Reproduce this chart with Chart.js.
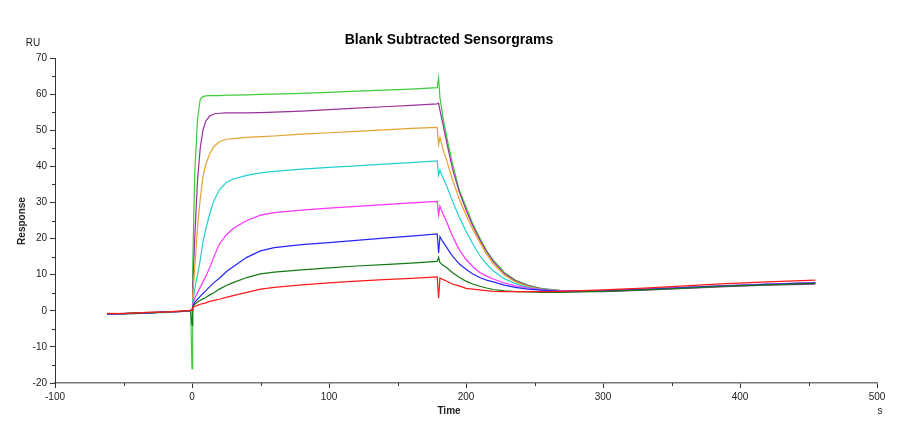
<!DOCTYPE html>
<html>
<head>
<meta charset="utf-8">
<script src="https://cdn.jsdelivr.net/npm/chart.js@4"></script>
<style>
  html, body { margin: 0; padding: 0; background: #fff; }
  #wrap { width: 900px; height: 424px; }
</style>
</head>
<body>
<div id="wrap"><canvas id="myChart" width="900" height="424"></canvas></div>
<script>
// time points (s)
const times = [-62, -50, -40, -30, -20, -10, -1, 0, 0.5, 2, 4, 6, 8, 10, 13, 16, 20, 25, 30, 40,
  50, 60, 80, 100, 120, 140, 160, 179, 180, 181, 183, 186, 190, 195, 200, 205, 210, 215, 220, 228,
  236, 245, 255, 270, 300, 330, 360, 390, 420, 455];

// response (RU), one array per concentration
const green = [-0.9, -0.7, -0.8, -0.5, -0.4, -0.3, 0.1,
  -16, 12, 38, 53, 58.5, 59.3, 59.5, 59.6, 59.6, 59.6, 59.7, 59.7, 59.8, 59.9, 60, 60.2, 60.5, 60.8, 61.1, 61.4, 61.8,
  64.5, 59, 54, 48, 41, 33.5, 28.8, 24, 20.2, 16.7, 14, 10.6, 8.5, 7.1, 6.2, 5.6, 5.4, 5.9, 6.4, 6.9, 7.3, 7.6];
const purple = [-1, -0.8, -0.7, -0.6, -0.4, -0.2, 0,
  0.5, 6, 20, 36, 45, 50, 52.5, 54, 54.5, 54.7, 54.8, 54.8, 54.8, 54.9, 55, 55.3, 55.7, 56.1, 56.5, 56.9, 57.3,
  57.5, 55.5, 52, 46.5, 39.5, 33, 28, 23.5, 19.7, 16.4, 13.6, 10.3, 8.3, 7, 6.1, 5.5, 5.3, 5.7, 6.2, 6.7, 7.1, 7.4];
const orange = [-0.9, -0.8, -0.6, -0.6, -0.4, -0.2, 0,
  0.5, 4, 12, 23, 31, 37, 40.5, 43.5, 45.5, 46.8, 47.5, 47.7, 48, 48.2, 48.4, 48.9, 49.3, 49.7, 50.1, 50.5, 50.8,
  46, 48, 45, 41.5, 36.5, 31, 26.5, 22.5, 19, 15.7, 12.9, 9.9, 8, 6.8, 6, 5.5, 5.5, 5.9, 6.4, 6.9, 7.3, 7.7];
const cyan = [-0.8, -0.9, -0.6, -0.5, -0.5, -0.2, 0.1,
  0.3, 2.5, 6, 10, 14, 19, 22.5, 27, 30.5, 33.5, 35.5, 36.5, 37.5, 38.2, 38.6, 39.2, 39.7, 40.1, 40.6, 41, 41.5,
  37.5, 39, 37, 34.5, 30.5, 26, 22, 18.5, 15.3, 12.9, 11, 8.9, 7.5, 6.5, 5.9, 5.5, 5.6, 6, 6.5, 7, 7.4, 7.8];
const magenta = [-1, -0.7, -0.7, -0.5, -0.3, -0.3, 0,
  0.3, 1.8, 3.5, 5, 6.5, 8, 9.5, 12, 15, 18.5, 21, 22.8, 25, 26.5, 27.2, 27.9, 28.4, 28.9, 29.4, 29.9, 30.3,
  26.5, 29, 27, 24.5, 20.8, 17, 14.2, 12.2, 10.6, 9.6, 8.8, 7.7, 6.9, 6.3, 5.8, 5.5, 5.6, 6, 6.5, 7, 7.4, 7.8];
const blue = [-0.9, -0.8, -0.7, -0.6, -0.3, -0.2, 0,
  0.2, 1.2, 2.3, 3.2, 4, 4.8, 5.5, 6.7, 7.8, 9, 10.8, 12.2, 14.8, 16.6, 17.5, 18.3, 18.9, 19.5, 20.1, 20.7, 21.3,
  16, 20.5, 19.2, 17.5, 15.2, 13, 11.5, 10.2, 9.2, 8.5, 8, 7.1, 6.5, 6, 5.7, 5.4, 5.5, 5.9, 6.4, 6.9, 7.3, 7.7];
const darkGreen = [-0.8, -0.8, -0.6, -0.5, -0.4, -0.2, 0.1,
  -4, 1, 1.8, 2.4, 2.9, 3.3, 3.7, 4.4, 5, 6, 7, 7.8, 9.2, 10.2, 10.7, 11.3, 11.9, 12.4, 12.8, 13.2, 13.7,
  14.8, 13.3, 12.7, 11.9, 10.6, 9.3, 8.2, 7.4, 6.8, 6.3, 5.9, 5.5, 5.3, 5.2, 5.1, 5.1, 5.4, 5.8, 6.3, 6.8, 7.2, 7.6];
const red = [-0.7, -0.8, -0.6, -0.4, -0.4, -0.1, 0.1,
  0.2, 0.9, 1.2, 1.5, 1.8, 2, 2.2, 2.6, 2.9, 3.2, 3.7, 4.2, 5.1, 6, 6.5, 7.2, 7.7, 8.2, 8.6, 9, 9.4,
  3.5, 9.1, 8.7, 8.2, 7.4, 6.9, 6.2, 6, 5.8, 5.6, 5.4, 5.3, 5.3, 5.3, 5.3, 5.4, 5.8, 6.3, 6.9, 7.5, 8, 8.5];

const xTicks = [-100, 0, 100, 200, 300, 400, 500];
const yTicks = [-20, -10, 0, 10, 20, 30, 40, 50, 60, 70];

const seriesList = [
  { name: 'red', values: red, color: '#ff1a1a' },
  { name: 'darkGreen', values: darkGreen, color: '#137a13' },
  { name: 'blue', values: blue, color: '#2626ff' },
  { name: 'magenta', values: magenta, color: '#ff33ff' },
  { name: 'cyan', values: cyan, color: '#22cfcf' },
  { name: 'orange', values: orange, color: '#e3a230' },
  { name: 'purple', values: purple, color: '#9a2f9a' },
  { name: 'green', values: green, color: '#3ccc3c' }
];

const FONT = '"Liberation Sans", Arial, sans-serif';

// extra texts and minor ticks
const decorations = {
  id: 'decorations',
  afterDraw(chart) {
    const c = chart.ctx;
    const xs = chart.scales.x;
    const ys = chart.scales.y;
    c.save();
    c.fillStyle = '#000';
    c.textAlign = 'center';
    c.textBaseline = 'middle';
    c.font = 'bold 14px ' + FONT;
    c.fillText('Blank Subtracted Sensorgrams', 449, 40);

    c.font = '10px ' + FONT;
    c.fillStyle = '#222';
    c.fillText('RU', 33, 43);
    c.fillText('s', 880, 411);
    c.font = 'bold 10px ' + FONT;
    c.fillText('Time', 449, 411);
    c.translate(22, 221);
    c.rotate(-Math.PI / 2);
    c.fillText('Response', 0, 0);
    c.restore();

    // minor ticks
    c.save();
    c.strokeStyle = '#333';
    c.lineWidth = 1;
    c.beginPath();
    for (let v = -15; v <= 65; v += 10) {
      const py = Math.round(ys.getPixelForValue(v)) + 0.5;
      c.moveTo(xs.left - 3, py);
      c.lineTo(xs.left, py);
    }
    for (let v = -50; v <= 450; v += 100) {
      const px = Math.round(xs.getPixelForValue(v)) + 0.5;
      c.moveTo(px, ys.bottom);
      c.lineTo(px, ys.bottom + 3);
    }
    c.stroke();
    c.restore();
  }
};

const ctx = document.getElementById('myChart').getContext('2d');

const chart = new Chart(ctx, {
  type: 'line',
  data: {
    datasets: seriesList.map(s => ({
      label: s.name,
      data: times.map((t, i) => ({ x: t, y: s.values[i] })),
      borderColor: s.color,
      borderWidth: 1.2,
      pointRadius: 0,
      tension: 0,
      fill: false
    }))
  },
  options: {
    responsive: false,
    animation: false,
    events: [],
    layout: { padding: { left: 10, right: 23, top: 58, bottom: 0 } },
    plugins: {
      legend: { display: false },
      title: { display: false },
      tooltip: { enabled: false }
    },
    scales: {
      x: {
        type: 'linear',
        min: -100,
        max: 500,
        afterBuildTicks: axis => { axis.ticks = xTicks.map(v => ({ value: v })); },
        afterFit: axis => { axis.height = 41; },
        grid: { drawOnChartArea: false, drawTicks: true, tickLength: 5, color: '#333' },
        border: { color: '#777', width: 1.5 },
        ticks: { color: '#222', font: { family: FONT, size: 10 }, padding: 3, maxRotation: 0 }
      },
      y: {
        type: 'linear',
        min: -20,
        max: 70,
        afterBuildTicks: axis => { axis.ticks = yTicks.map(v => ({ value: v })); },
        afterFit: axis => { axis.width = 45; },
        grid: { drawOnChartArea: false, drawTicks: true, tickLength: 5, color: '#333' },
        border: { color: '#333', width: 1 },
        ticks: { color: '#222', font: { family: FONT, size: 10 }, padding: 3 }
      }
    }
  },
  plugins: [decorations]
});
</script>
</body>
</html>
